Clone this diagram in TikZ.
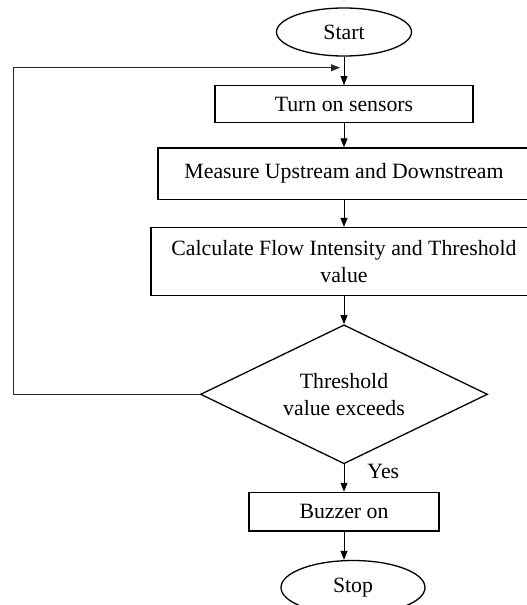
\documentclass[tikz,border=0pt]{standalone}
\usepackage{fontspec}
\setmainfont{Liberation Serif}
\usetikzlibrary{positioning,shapes.geometric,arrows.meta,calc}
\begin{document}
\begin{tikzpicture}[x=1pt, y=1pt,
  every node/.style={font=\fontsize{21.8}{27}\selectfont, inner sep=0pt},
  box/.style={rectangle, draw=black, line width=1.3pt, minimum height=#1},
  terminal/.style={ellipse, draw=black, line width=1.3pt},
  flow/.style={-{Triangle[length=9pt,width=7pt]}, line width=0.9pt},
  loopline/.style={draw=black!85, line width=0.8pt}]
\useasboundingbox (0,0) rectangle (527,-605);
\clip (0,0) rectangle (527,-605);
\node [terminal, minimum width=135pt, minimum height=48pt] (start) at (344,-32) {Start};
\node [box=36.7pt, minimum width=258pt, below=28.4pt of start] (sensors) {Turn on sensors};
\node [box=51.5pt, minimum width=372pt, below=24.3pt of sensors] (measure) {Measure Upstream and Downstream};
\node [box=68pt, minimum width=386pt, align=center, below=26.7pt of measure] (calc)
  {Calculate Flow Intensity and Threshold\\value};
\node [diamond, aspect=2.06, draw=black, line width=1.3pt, minimum width=287pt, minimum height=139pt,
  align=center, below=28pt of calc] (decision) {Threshold\\value exceeds};
\node [box=38.5pt, minimum width=190pt, below=27.3pt of decision] (buzzer) {Buzzer on};
\node [terminal, minimum width=144pt, minimum height=54pt, below=28.3pt of buzzer, xshift=9pt] (stop) {Stop};

\draw [flow] (start) -- (sensors);
\draw [flow] (sensors) -- (measure);
\draw [flow] (measure) -- (calc);
\draw [flow] (calc) -- (decision);
\draw [flow] (decision) -- node[right=23pt, pos=0.25] (yes) {Yes} (buzzer);
\draw [flow] (buzzer.south) -- (buzzer.south |- stop.north);

\coordinate (join) at ($(start.south)!0.39!(sensors.north)$);
\coordinate (corner) at (decision.west -| 13.5,0);
\draw [flow, loopline] (decision.west) -- (corner) |- ([xshift=-4pt]join);
\end{tikzpicture}
\end{document}
